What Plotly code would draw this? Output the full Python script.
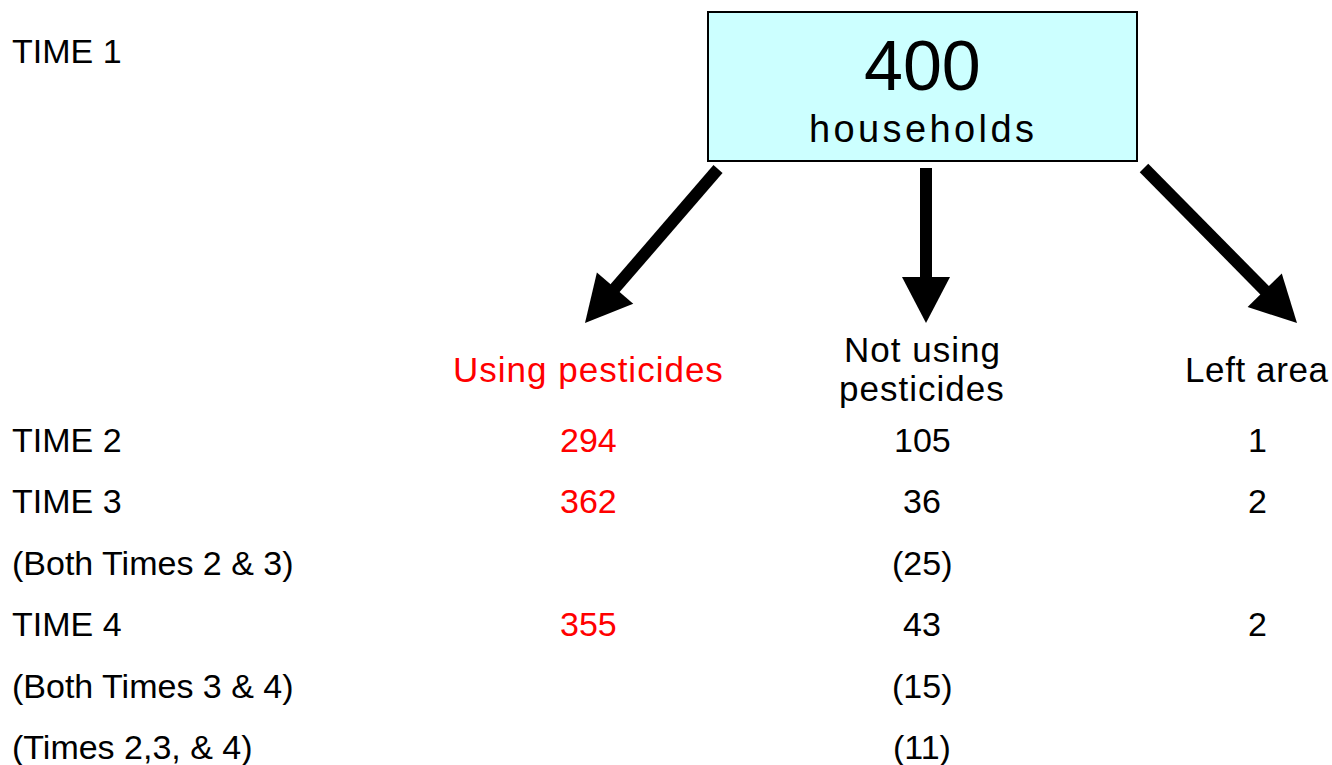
import math
import plotly.graph_objects as go

# ---------------- data ----------------
total_households = 400
total_label = "households"
time1_label = "TIME 1"
column_headers = ["Using pesticides", "Not using<br>pesticides", "Left area"]
row_labels = ["TIME 2", "TIME 3", "(Both Times 2 & 3)", "TIME 4",
              "(Both Times 3 & 4)", "(Times 2,3, & 4)"]
using_pesticides = [294, 362, None, 355, None, None]
not_using_pesticides = [105, 36, 25, 43, 15, 11]
not_using_is_overlap = [False, False, True, False, True, True]
left_area = [1, 2, None, 2, None, None]

# ---------------- layout config ----------------
W, H = 1332, 765
FONT = "Liberation Sans, Arial, Helvetica, sans-serif"
RED = "#FF0000"
col_x = [588, 922, 1257]
row_y = [440, 501, 563, 624, 686, 747]
label_x = 10
fs = 34

fig = go.Figure()
fig.add_trace(go.Scatter(x=[0, W], y=[0, H], mode="markers",
                         marker=dict(opacity=0), hoverinfo="skip", showlegend=False))

# box
box = dict(x0=708, x1=1137, y0=12, y1=161)
fig.add_shape(type="rect", xref="x", yref="y", **box,
              line=dict(color="black", width=2), fillcolor="#CCFFFF", layer="below")

ann = []
def text(x, y, s, size=fs, color="black", xanchor="center", spacing=None):
    if spacing:
        s = f'<span style="letter-spacing:{spacing}px">{s}</span>'
    ann.append(dict(x=x, y=y, xref="x", yref="y", text=s, showarrow=False,
                    xanchor=xanchor, yanchor="middle",
                    font=dict(family=FONT, size=size, color=color)))

cx = (box["x0"] + box["x1"]) / 2
text(cx, 66, str(total_households), size=70)
text(cx, 129, total_label, size=38, spacing=3.4)

text(label_x, 51, time1_label, xanchor="left")

# headers
text(col_x[0], 369, column_headers[0], size=35, color=RED, spacing=1)
hdr_lines = column_headers[1].split("<br>")
text(col_x[1], 349, hdr_lines[0], size=35, spacing=1)
text(col_x[1], 388, hdr_lines[1], size=35, spacing=1)
text(col_x[2], 369, column_headers[2], size=35, spacing=0.6)

# rows
for i, lab in enumerate(row_labels):
    y = row_y[i]
    text(label_x, y, lab, xanchor="left")
    if using_pesticides[i] is not None:
        text(col_x[0], y, str(using_pesticides[i]), color=RED)
    v = not_using_pesticides[i]
    text(col_x[1], y, f"({v})" if not_using_is_overlap[i] else str(v))
    if left_area[i] is not None:
        text(col_x[2], y, str(left_area[i]))

# arrows (shaft + triangular head)
arrows = [((718, 169), (585, 323)), ((926, 168), (926, 323)), ((1144, 168), (1297, 323))]
head_len, head_half = 46, 24
for (x0, y0), (x1, y1) in arrows:
    dx, dy = x1 - x0, y1 - y0
    L = math.hypot(dx, dy)
    ux, uy = dx / L, dy / L
    bx, by = x1 - head_len * ux, y1 - head_len * uy
    px, py = -uy, ux
    fig.add_shape(type="line", xref="x", yref="y", x0=x0, y0=y0,
                  x1=bx + 2 * ux, y1=by + 2 * uy, line=dict(color="black", width=12))
    path = (f"M {x1},{y1} L {bx + head_half * px},{by + head_half * py} "
            f"L {bx - head_half * px},{by - head_half * py} Z")
    fig.add_shape(type="path", xref="x", yref="y", path=path,
                  fillcolor="black", line=dict(width=0))

fig.update_layout(
    width=W, height=H, margin=dict(l=0, r=0, t=0, b=0),
    paper_bgcolor="white", plot_bgcolor="white", showlegend=False,
    xaxis=dict(range=[0, W], visible=False, fixedrange=True),
    yaxis=dict(range=[H, 0], visible=False, fixedrange=True),
    annotations=ann,
)
fig.write_html(
    "out.html",
    config={"displayModeBar": False, "staticPlot": True},
    post_script="document.body.style.margin='0px';document.body.style.overflow='hidden';",
)
